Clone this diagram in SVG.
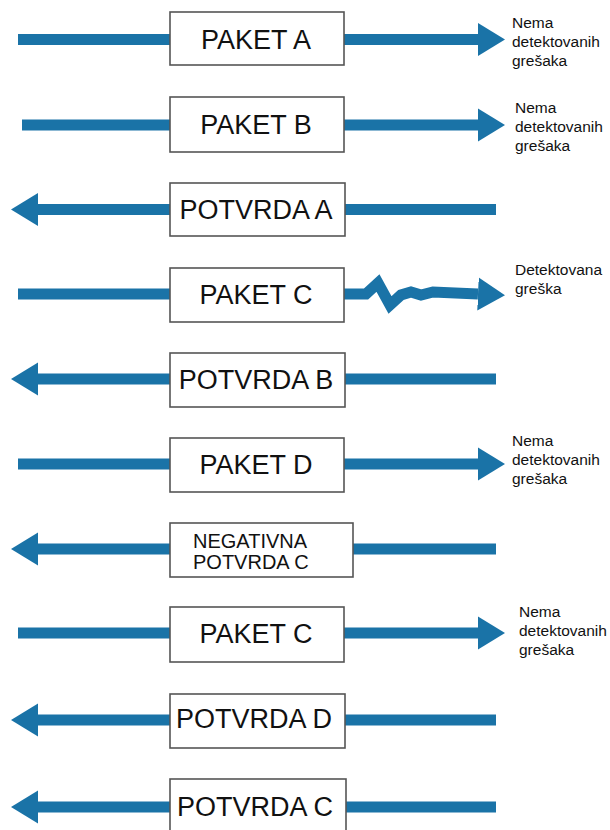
<svg xmlns="http://www.w3.org/2000/svg" width="610" height="830" viewBox="0 0 610 830">
  <style>
    .wire { fill: none; stroke: #1a73a7; stroke-width: 11; }
    .box { fill: #ffffff; stroke: #555555; stroke-width: 1.6; }
    .name { font-family: "Liberation Sans", Arial, sans-serif; font-size: 27px; fill: #111111; text-anchor: middle; }
    .name2 { font-family: "Liberation Sans", Arial, sans-serif; font-size: 20px; fill: #111111; }
    .note { font-family: "Liberation Sans", Arial, sans-serif; font-size: 15.5px; fill: #111111; }
  </style>
  <defs>
    <marker id="head" markerUnits="userSpaceOnUse" markerWidth="28" markerHeight="34" refX="0" refY="16.5" orient="auto" viewBox="0 0 28 33">
      <path d="M0,0 L27,16.5 L0,33 Z" fill="#1a73a7"/>
    </marker>
  </defs>

  <!-- transmission lines -->
  <g id="connectors">
    <path class="wire" d="M18,39.5 H478" marker-end="url(#head)"/>
    <path class="wire" d="M22,125 H478" marker-end="url(#head)"/>
    <path class="wire" d="M496,209.5 H38" marker-end="url(#head)"/>
    <path class="wire" stroke-linejoin="miter" d="M18,294 H366 L378,283 L390,305 L401,295 L411,292 L421,295 L433,292 L478,294" marker-end="url(#head)"/>
    <path class="wire" d="M496,379 H38" marker-end="url(#head)"/>
    <path class="wire" d="M18,464 H478" marker-end="url(#head)"/>
    <path class="wire" d="M496,549 H38" marker-end="url(#head)"/>
    <path class="wire" d="M18,633 H478" marker-end="url(#head)"/>
    <path class="wire" d="M496,720 H38" marker-end="url(#head)"/>
    <path class="wire" d="M496,807 H38" marker-end="url(#head)"/>
  </g>

  <!-- frames -->
  <g id="paket-a"><rect class="box" x="170" y="12" width="174" height="53"/><text class="name" x="256" y="49">PAKET A</text></g>
  <g id="paket-b"><rect class="box" x="170" y="97" width="174" height="55"/><text class="name" x="256" y="134">PAKET B</text></g>
  <g id="potvrda-a"><rect class="box" x="170" y="183" width="175" height="53"/><text class="name" x="256" y="219">POTVRDA A</text></g>
  <g id="paket-c"><rect class="box" x="170" y="268" width="174" height="54"/><text class="name" x="256" y="304">PAKET C</text></g>
  <g id="potvrda-b"><rect class="box" x="170" y="353" width="175" height="54"/><text class="name" x="256" y="389">POTVRDA B</text></g>
  <g id="paket-d"><rect class="box" x="170" y="438" width="174" height="54"/><text class="name" x="256" y="474">PAKET D</text></g>
  <g id="negativna-potvrda-c"><rect class="box" x="170" y="523" width="183" height="54"/><text class="name2" x="193" y="548">NEGATIVNA</text><text class="name2" x="193" y="569">POTVRDA C</text></g>
  <g id="paket-c-2"><rect class="box" x="170" y="607" width="174" height="55"/><text class="name" x="256" y="643">PAKET C</text></g>
  <g id="potvrda-d"><rect class="box" x="170" y="694" width="175" height="54"/><text class="name" x="254" y="728">POTVRDA D</text></g>
  <g id="potvrda-c"><rect class="box" x="170" y="779" width="176" height="56"/><text class="name" x="255" y="816">POTVRDA C</text></g>

  <!-- receiver notes -->
  <g id="notes">
    <text class="note" x="512" y="28">Nema<tspan x="512" y="47">detektovanih</tspan><tspan x="512" y="66">grešaka</tspan></text>
    <text class="note" x="515" y="113">Nema<tspan x="515" y="132">detektovanih</tspan><tspan x="515" y="151">grešaka</tspan></text>
    <text class="note" x="515" y="275">Detektovana<tspan x="515" y="294">greška</tspan></text>
    <text class="note" x="512" y="446">Nema<tspan x="512" y="465">detektovanih</tspan><tspan x="512" y="484">grešaka</tspan></text>
    <text class="note" x="519" y="617">Nema<tspan x="519" y="636">detektovanih</tspan><tspan x="519" y="655">grešaka</tspan></text>
  </g>
</svg>
